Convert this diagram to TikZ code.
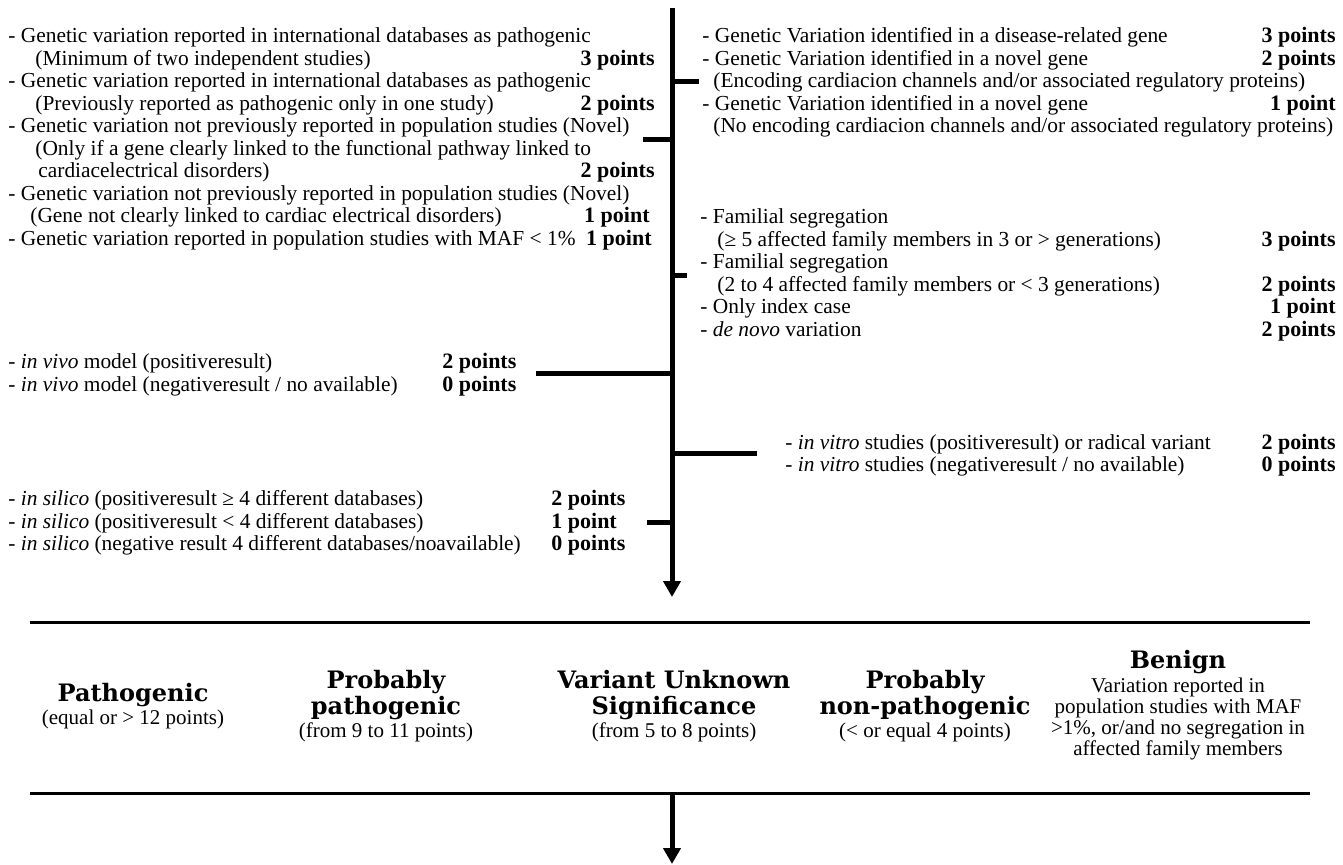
\documentclass[tikz,border=0pt]{standalone}
\usepackage{fontspec}
\setmainfont{Liberation Serif}
\newfontfamily\titlefont{DejaVu Serif}
\usetikzlibrary{arrows.meta}
\tikzset{
  txt/.style={anchor=base west, inner sep=0pt, font=\fontsize{10.7}{12}\selectfont},
  ptsW/.style={anchor=base west, inner sep=0pt, font=\fontsize{11}{12}\selectfont\bfseries},
  ptsE/.style={anchor=base east, inner sep=0pt, font=\fontsize{11}{12}\selectfont\bfseries},
  ttl/.style={anchor=base, inner sep=0pt, font=\titlefont\fontsize{12}{14}\selectfont\bfseries},
  sub/.style={anchor=base, inner sep=0pt, font=\fontsize{10.5}{12}\selectfont},
  bar/.style={line width=2.5pt},
  rule/.style={line width=1.5pt},
  arr/.style={line width=2.5pt, -{Triangle[width=8.5pt,length=8pt]}}
}
\begin{document}
\begin{tikzpicture}[x=0.5pt,y=-0.5pt]
\useasboundingbox (0,0) rectangle (1343,865);
% ---------- left top block
\node[txt] (l1) at (8,43) {- Genetic variation reported in international databases as pathogenic};
\node[txt] (l2) at (35,65.5) {(Minimum of two independent studies)};
\node[ptsE] (p2) at (655,65.5) {3 points};
\node[txt] (l3) at (8,88) {- Genetic variation reported in international databases as pathogenic};
\node[txt] (l4) at (35,110.5) {(Previously reported as pathogenic only in one study)};
\node[ptsE] (p4) at (655,110.5) {2 points};
\node[txt] (l5) at (8,133) {- Genetic variation not previously reported in population studies (Novel)};
\node[txt] (l6) at (35,155.5) {(Only if a gene clearly linked to the functional pathway linked to};
\node[txt] (l7) at (38,178) {cardiacelectrical disorders)};
\node[ptsE] (p7) at (655,178) {2 points};
\node[txt] (l8) at (8,200.5) {- Genetic variation not previously reported in population studies (Novel)};
\node[txt] (l9) at (30,223) {(Gene not clearly linked to cardiac electrical disorders)};
\node[ptsE] (p9) at (650,223) {1 point};
\node[txt] (l10) at (8,245.5) {- Genetic variation reported in population studies with MAF < 1\%};
\node[ptsE] (p10) at (652,245.5) {1 point};
% ---------- right top block
\node[txt] (r1) at (702,43) {- Genetic Variation identified in a disease-related gene};
\node[ptsE] (q1) at (1336,43) {3 points};
\node[txt] (r2) at (702,65.5) {- Genetic Variation identified in a novel gene};
\node[ptsE] (q2) at (1336,65.5) {2 points};
\node[txt] (r3) at (713,88) {(Encoding cardiacion channels and/or associated regulatory proteins)};
\node[txt] (r4) at (702,110.5) {- Genetic Variation identified in a novel gene};
\node[ptsE] (q4) at (1336,110.5) {1 point};
\node[txt] (r5) at (713,133) {(No encoding cardiacion channels and/or associated regulatory proteins)};
% ---------- familial block
\node[txt] (f1) at (700,224) {- Familial segregation};
\node[txt] (f2) at (717,247) {(≥ 5 affected family members in 3 or > generations)};
\node[ptsE] (g2) at (1336,247) {3 points};
\node[txt] (f3) at (700,269) {- Familial segregation};
\node[txt] (f4) at (717,292) {(2 to 4 affected family members or < 3 generations)};
\node[ptsE] (g4) at (1336,292) {2 points};
\node[txt] (f5) at (700,314) {- Only index case};
\node[ptsE] (g5) at (1336,314) {1 point};
\node[txt] (f6) at (700,337) {- \textit{de novo} variation};
\node[ptsE] (g6) at (1336,337) {2 points};
% ---------- in vivo
\node[txt] (v1) at (8,369) {- \textit{in vivo} model (positiveresult)};
\node[ptsW] (w1) at (442,369) {2 points};
\node[txt] (v2) at (8,392) {- \textit{in vivo} model (negativeresult / no available)};
\node[ptsW] (w2) at (442,392) {0 points};
% ---------- in vitro
\node[txt] (i1) at (785,450) {- \textit{in vitro} studies (positiveresult) or radical variant};
\node[ptsE] (j1) at (1336,450) {2 points};
\node[txt] (i2) at (785,472) {- \textit{in vitro} studies (negativeresult / no available)};
\node[ptsE] (j2) at (1336,472) {0 points};
% ---------- in silico
\node[txt] (s1) at (8,506) {- \textit{in silico} (positiveresult ≥ 4 different databases)};
\node[ptsW] (u1) at (551,506) {2 points};
\node[txt] (s2) at (8,529) {- \textit{in silico} (positiveresult < 4 different databases)};
\node[ptsW] (u2) at (551,529) {1 point};
\node[txt] (s3) at (8,551) {- \textit{in silico} (negative result 4 different databases/noavailable)};
\node[ptsW] (u3) at (551,551) {0 points};
% ---------- spine and ticks
\coordinate (top) at (672,8);
\coordinate (tip) at (672,597);
\coordinate (a1) at (672,82);   \coordinate (a1e) at (699,82);
\coordinate (a2) at (672,140);  \coordinate (a2e) at (643,140);
\coordinate (a3) at (672,276);  \coordinate (a3e) at (687,276);
\coordinate (a4) at (672,374);  \coordinate (a4e) at (536,374);
\coordinate (a5) at (672,454);  \coordinate (a5e) at (757,454);
\coordinate (a6) at (672,523);  \coordinate (a6e) at (647,523);
\draw[arr] (top) -- (tip);
\draw[bar] (a1) -- (a1e);
\draw[bar] (a2) -- (a2e);
\draw[bar] (a3) -- (a3e);
\draw[bar] (a4) -- (a4e);
\draw[bar] (a5) -- (a5e);
\draw[bar] (a6) -- (a6e);
% ---------- rules
\coordinate (h1a) at (30,622);  \coordinate (h1b) at (1310,622);
\coordinate (h2a) at (30,793);  \coordinate (h2b) at (1310,793);
\draw[rule] (h1a) -- (h1b);
\draw[rule] (h2a) -- (h2b);
\coordinate (b0) at (672,793);
\coordinate (b1) at (672,864);
\draw[arr] (b0) -- (b1);
% ---------- categories
\node[ttl] (c1a) at (133,701) {Pathogenic};
\node[sub] (c1b) at (133,724) {(equal or > 12 points)};
\node[ttl] (c2a) at (386,688) {Probably};
\node[ttl] (c2b) at (386,714) {pathogenic};
\node[sub] (c2c) at (386,737) {(from 9 to 11 points)};
\node[ttl] (c3a) at (674,688) {Variant Unknown};
\node[ttl] (c3b) at (674,714) {Significance};
\node[sub] (c3c) at (674,737) {(from 5 to 8 points)};
\node[ttl] (c4a) at (925,688) {Probably};
\node[ttl] (c4b) at (925,714) {non-pathogenic};
\node[sub] (c4c) at (925,737) {(< or equal 4 points)};
\node[ttl] (c5a) at (1178,668) {Benign};
\node[sub] (c5b) at (1178,692) {Variation reported in};
\node[sub] (c5c) at (1178,713) {population studies with MAF};
\node[sub] (c5d) at (1178,734) {>1\%, or/and no segregation in};
\node[sub] (c5e) at (1178,755) {affected family members};
\end{tikzpicture}
\end{document}
